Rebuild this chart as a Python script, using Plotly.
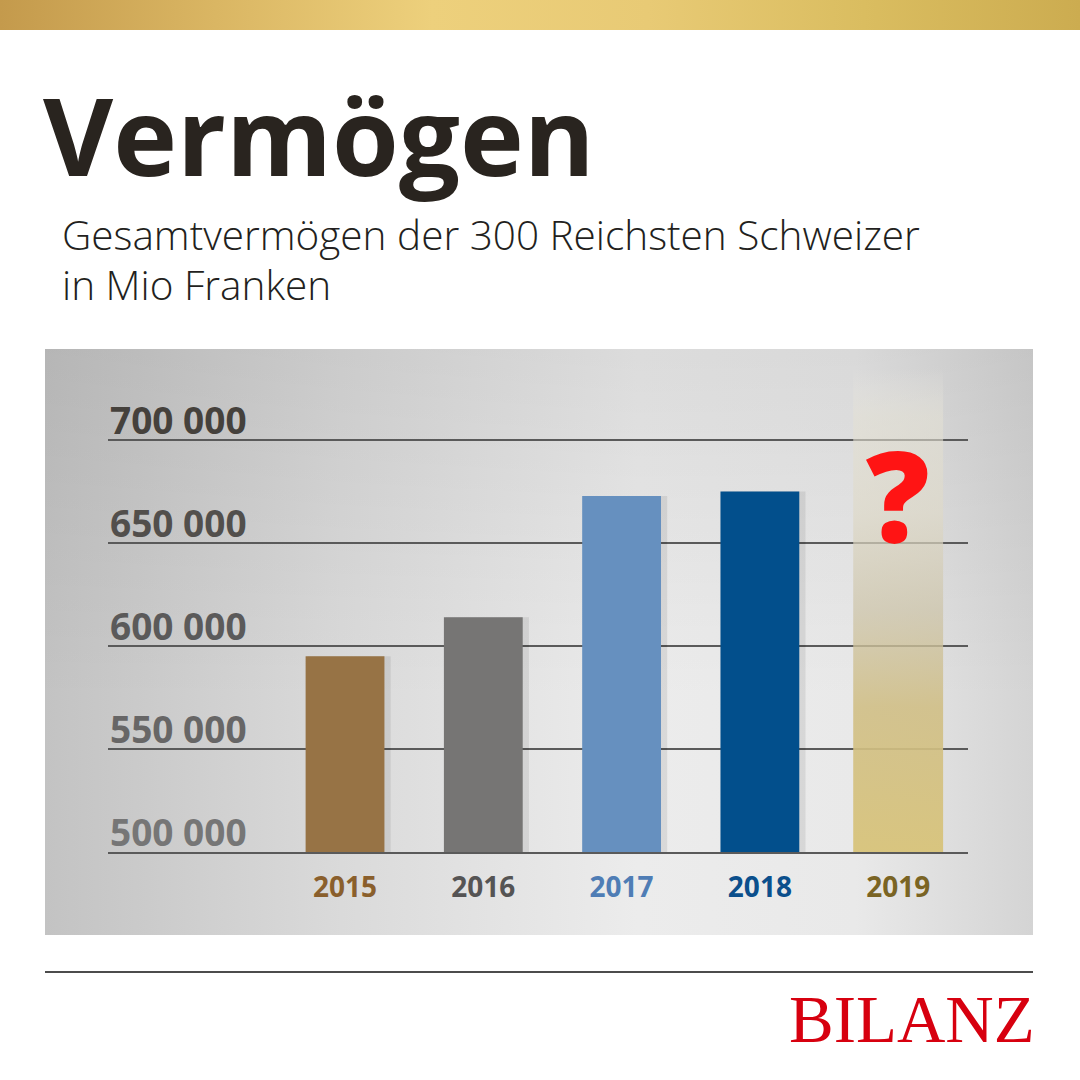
import plotly.graph_objects as go

# ---- data ----
years = ["2015", "2016", "2017", "2018", "2019"]
values = [595000, 614000, 672800, 675000]          # 2019 unknown
year_colors = ["#8a5f2c", "#555454", "#4f7db5", "#0b4f8c", "#7a6424"]
bar_colors = ["#977345", "#767574", "#6690bf", "#024f8c"]
placeholder_top = 735000                            # faded 2019 column
question_y = 674500
y_ticks = [500000, 550000, 600000, 650000, 700000]
y_tick_labels = ["500 000", "550 000", "600 000", "650 000", "700 000"]
y_tick_colors = ["#767676", "#676666", "#5b5a5a", "#524f4c", "#45413c"]

title = "Vermögen"
subtitle1 = "Gesamtvermögen der 300 Reichsten Schweizer"
subtitle2 = "in Mio Franken"
brand = "BILANZ"

fig = go.Figure()

# ---- decoration layer (pixel coordinates on x/y) ----
fig.add_trace(go.Scatter(
    x=[0, 1080, 1080, 0, 0], y=[0, 0, 30, 30, 0], mode="lines",
    line=dict(width=0), fill="toself", hoverinfo="skip",
    fillgradient=dict(type="horizontal", colorscale=[
        [0, "#c49a4c"], [0.2, "#dab663"], [0.4, "#edd07c"], [0.6, "#e8ca75"],
        [0.8, "#dabd60"], [1, "#ccac50"]]),
    xaxis="x", yaxis="y"))
fig.add_trace(go.Scatter(
    x=[45, 1033, 1033, 45, 45], y=[349, 349, 935, 935, 349], mode="lines",
    line=dict(width=0), fill="toself", hoverinfo="skip",
    fillgradient=dict(type="horizontal", colorscale=[
        [0, "#c3c3c3"], [0.3, "#dadada"], [0.6, "#ececec"], [0.82, "#e9e9e9"],
        [1, "#d4d4d4"]]),
    xaxis="x", yaxis="y"))
fig.add_trace(go.Scatter(
    x=[45, 1033, 1033, 45, 45], y=[349, 349, 935, 935, 349], mode="lines",
    line=dict(width=0), fill="toself", hoverinfo="skip",
    fillgradient=dict(type="vertical", start=349, stop=935, colorscale=[
        [0, "rgba(0,0,0,0.07)"], [0.6, "rgba(0,0,0,0)"], [1, "rgba(0,0,0,0)"]]),
    xaxis="x", yaxis="y"))

# ---- chart layer (x2/y2) ----
xs = list(range(len(values)))
fig.add_trace(go.Bar(
    x=[i + 0.03 for i in xs], y=values, width=0.6,
    marker=dict(color="rgba(0,0,0,0.08)", line=dict(width=0)),
    hoverinfo="skip", xaxis="x2", yaxis="y2"))
fig.add_trace(go.Bar(
    x=xs, y=values, width=0.57,
    marker=dict(color=bar_colors, line=dict(width=0)),
    xaxis="x2", yaxis="y2"))

i19 = len(years) - 1
hw = 0.325
fig.add_trace(go.Scatter(
    x=[i19 - hw, i19 + hw, i19 + hw, i19 - hw, i19 - hw],
    y=[y_ticks[0], y_ticks[0], placeholder_top, placeholder_top, y_ticks[0]],
    mode="lines", line=dict(width=0), fill="toself", hoverinfo="skip",
    fillgradient=dict(type="vertical", start=y_ticks[0], stop=placeholder_top,
                      colorscale=[[0, "rgba(216,196,124,0.97)"],
                                  [0.3, "rgba(208,190,132,0.88)"],
                                  [0.5, "rgba(205,196,168,0.72)"],
                                  [0.7, "rgba(222,217,200,0.7)"],
                                  [0.9, "rgba(228,225,212,0.55)"],
                                  [1, "rgba(235,233,226,0)"]]),
    xaxis="x2", yaxis="y2"))

annotations = []
for v, lab, col in zip(y_ticks, y_tick_labels, y_tick_colors):
    annotations.append(dict(
        x=108 / 1080, xref="paper", xanchor="left", y=v, yref="y2",
        yanchor="bottom", yshift=-7, text=lab, showarrow=False,
        font=dict(family="Open Sans", size=37, color=col, weight="bold")))

annotations.append(dict(
    x=i19, xref="x2", y=question_y, yref="y2", text="?", showarrow=False,
    xanchor="center", yanchor="middle",
    font=dict(family="Open Sans", size=126, color="#ff1414", weight=800)))

annotations += [
    dict(x=41 / 1080, y=1 - 134 / 1080, xref="paper", yref="paper", text=title,
         showarrow=False, xanchor="left", yanchor="middle",
         font=dict(family="Open Sans", size=108, color="#29241f", weight="bold")),
    dict(x=60 / 1080, y=1 - 235 / 1080, xref="paper", yref="paper", text=subtitle1,
         showarrow=False, xanchor="left", yanchor="middle",
         font=dict(family="Open Sans", size=40.5, color="#231f20", weight=300)),
    dict(x=60 / 1080, y=1 - 285 / 1080, xref="paper", yref="paper", text=subtitle2,
         showarrow=False, xanchor="left", yanchor="middle",
         font=dict(family="Open Sans", size=40.5, color="#231f20", weight=300)),
    dict(x=1037 / 1080, y=1 - 1019 / 1080, xref="paper", yref="paper", text=brand,
         showarrow=False, xanchor="right", yanchor="middle",
         font=dict(family="Liberation Serif", size=67, color="#d7000f")),
]

tick_text = [f"<span style='color:{c}'>{y}</span>" for y, c in zip(years, year_colors)]

fig.update_layout(
    width=1080, height=1080, margin=dict(l=0, r=0, t=0, b=0),
    paper_bgcolor="white", plot_bgcolor="rgba(0,0,0,0)",
    showlegend=False, barmode="overlay",
    xaxis=dict(domain=[0, 1], range=[0, 1080], visible=False, fixedrange=True),
    yaxis=dict(domain=[0, 1], range=[1080, 0], visible=False, fixedrange=True),
    xaxis2=dict(domain=[108 / 1080, 968 / 1080], anchor="y2", range=[-1.714, 4.505],
                tickvals=list(range(len(years))), ticktext=tick_text,
                tickfont=dict(family="Open Sans", size=28, weight="bold"),
                showgrid=False, zeroline=False, showline=True,
                linecolor="#5a5a5a", linewidth=2, ticks="", ticklabelstandoff=9),
    yaxis2=dict(domain=[1 - 852 / 1080, 1 - 852 / 1080 + 494.4 / 1080], anchor="x2",
                range=[500000, 740000], tickvals=y_ticks, showticklabels=False,
                showgrid=True, gridcolor="#5a5a5a", gridwidth=2, zeroline=False),
    shapes=[dict(type="line", xref="paper", yref="paper", x0=45 / 1080, x1=1033 / 1080,
                 y0=1 - 972 / 1080, y1=1 - 972 / 1080, line=dict(color="#111111", width=1.5))],
    annotations=annotations,
)

fig.write_html("out.html", config={"displayModeBar": False},
               post_script="document.body.style.margin='0';")
